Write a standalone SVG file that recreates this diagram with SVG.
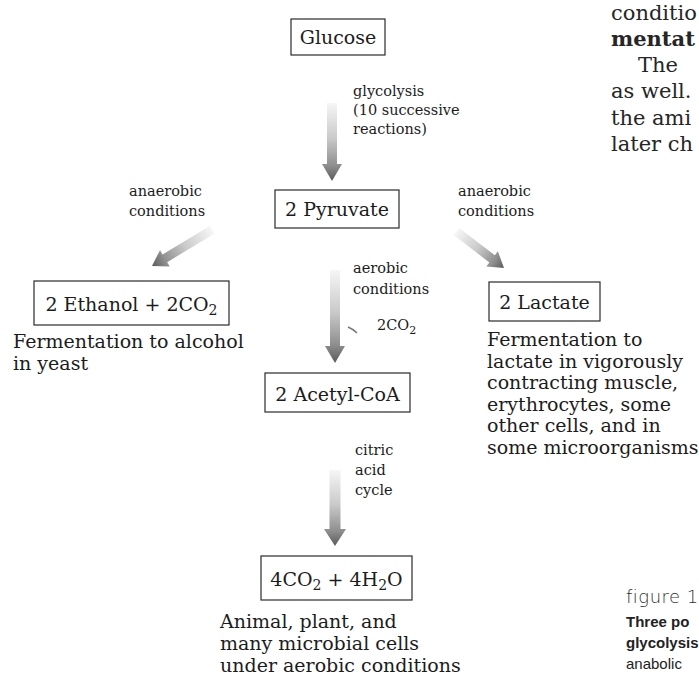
<svg xmlns="http://www.w3.org/2000/svg" width="699" height="677" viewBox="0 0 699 677">
<style>
  .bg{fill:#ffffff}
  .box{fill:#ffffff;stroke:#2a2a2a;stroke-width:1.2}
  .big{font-family:"DejaVu Serif","Liberation Serif",serif;font-size:19px;fill:#1c1c1c}
  .small{font-family:"DejaVu Serif","Liberation Serif",serif;font-size:14.5px;fill:#1c1c1c}
  .body{font-family:"DejaVu Serif","Liberation Serif",serif;font-size:21px;fill:#262626}
  .bold{font-weight:bold}
  .cap{font-family:"Liberation Sans","DejaVu Sans",sans-serif;font-size:15px;fill:#222}
  .fig{font-family:"DejaVu Sans","Liberation Sans",sans-serif;font-size:18px;fill:#333;font-weight:300;letter-spacing:0.5px}
  .mid{text-anchor:middle}
  .arrow{fill:url(#shade);stroke:none}
</style>
<defs>
  <linearGradient id="shade" x1="0" y1="0" x2="0" y2="1">
    <stop offset="0" stop-color="#f6f6f6"/>
    <stop offset="0.45" stop-color="#cacaca"/>
    <stop offset="0.8" stop-color="#8f8f8f"/>
    <stop offset="1" stop-color="#5a5a5a"/>
  </linearGradient>
</defs>
<rect class="bg" x="0" y="0" width="699" height="677"/>

<g id="connectors">
  <g id="edge-glycolysis">
    <g transform="translate(332,181)">
      <path class="arrow" d="M-5,-78 L5,-78 L5,-17 L10,-17 L0,0 L-10,-17 L-5,-17 Z"/>
    </g>
    <text class="small" x="353" y="96">glycolysis</text>
    <text class="small" x="353" y="115">(10 successive</text>
    <text class="small" x="353" y="134">reactions)</text>
  </g>
  <g id="edge-ethanol">
    <g transform="translate(152,266) rotate(59)">
      <path class="arrow" d="M-4.5,-70 L4.5,-70 L4.5,-15 L9.5,-15 L0,0 L-9.5,-15 L-4.5,-15 Z"/>
    </g>
    <text class="small" x="129" y="196">anaerobic</text>
    <text class="small" x="129" y="216">conditions</text>
  </g>
  <g id="edge-lactate">
    <g transform="translate(504,268) rotate(-52.5)">
      <path class="arrow" d="M-4.5,-60 L4.5,-60 L4.5,-15 L9.5,-15 L0,0 L-9.5,-15 L-4.5,-15 Z"/>
    </g>
    <text class="small" x="458" y="196">anaerobic</text>
    <text class="small" x="458" y="216">conditions</text>
  </g>
  <g id="edge-aerobic">
    <g transform="translate(335,363)">
      <path class="arrow" d="M-5,-93 L5,-93 L5,-17 L10,-17 L0,0 L-10,-17 L-5,-17 Z"/>
    </g>
    <path d="M348,327 Q353,329 357,333" fill="none" stroke="#777" stroke-width="1.6"/>
    <text class="small" x="353" y="273">aerobic</text>
    <text class="small" x="353" y="294">conditions</text>
    <text class="small" x="377" y="330">2CO<tspan font-size="11" dy="4">2</tspan></text>
  </g>
  <g id="edge-citric">
    <g transform="translate(335,546)">
      <path class="arrow" d="M-5.5,-76 L5.5,-76 L5.5,-17 L11,-17 L0,0 L-11,-17 L-5.5,-17 Z"/>
    </g>
    <text class="small" x="355" y="455">citric</text>
    <text class="small" x="355" y="475">acid</text>
    <text class="small" x="355" y="495">cycle</text>
  </g>
</g>

<g id="node-glucose">
  <rect class="box" x="291" y="19" width="94" height="36"/>
  <text class="big mid" x="338" y="44">Glucose</text>
</g>

<g id="node-pyruvate">
  <rect class="box" x="275" y="190" width="124" height="38"/>
  <text class="big mid" x="337" y="216">2 Pyruvate</text>
</g>

<g id="node-ethanol">
  <rect class="box" x="34" y="281" width="195" height="44"/>
  <text class="big mid" x="131.5" y="311">2 Ethanol + 2CO<tspan font-size="14" dy="4">2</tspan></text>
  <text class="big" x="13" y="348">Fermentation to alcohol</text>
  <text class="big" x="13" y="370">in yeast</text>
</g>

<g id="node-lactate">
  <rect class="box" x="489" y="282" width="111" height="39"/>
  <text class="big mid" x="544.5" y="309">2 Lactate</text>
  <text class="big" x="487" y="346">Fermentation to</text>
  <text class="big" x="487" y="367.5">lactate in vigorously</text>
  <text class="big" x="487" y="389">contracting muscle,</text>
  <text class="big" x="487" y="410.5">erythrocytes, some</text>
  <text class="big" x="487" y="432">other cells, and in</text>
  <text class="big" x="487" y="453.5">some microorganisms</text>
</g>

<g id="node-acetylcoa">
  <rect class="box" x="265" y="373" width="145" height="39"/>
  <text class="big mid" x="337.5" y="401">2 Acetyl-CoA</text>
</g>

<g id="node-co2h2o">
  <rect class="box" x="261" y="556" width="151" height="44"/>
  <text class="big mid" x="336.5" y="586">4CO<tspan font-size="14" dy="4">2</tspan><tspan dy="-4"> + 4H</tspan><tspan font-size="14" dy="4">2</tspan><tspan dy="-4">O</tspan></text>
  <text class="big" x="220" y="628">Animal, plant, and</text>
  <text class="big" x="220" y="650">many microbial cells</text>
  <text class="big" x="220" y="672">under aerobic conditions</text>
</g>

<g id="page-text">
  <text class="body" x="611" y="20">conditio</text>
  <text class="body bold" x="611" y="46">mentat</text>
  <text class="body" x="638" y="72">The</text>
  <text class="body" x="611" y="98">as well.</text>
  <text class="body" x="611" y="125">the ami</text>
  <text class="body" x="611" y="151">later ch</text>
  <text class="fig" x="626" y="603">figure 1</text>
  <text class="cap bold" x="626" y="627">Three po</text>
  <text class="cap bold" x="626" y="648">glycolysis</text>
  <text class="cap" x="626" y="669">anabolic</text>
</g>
</svg>
